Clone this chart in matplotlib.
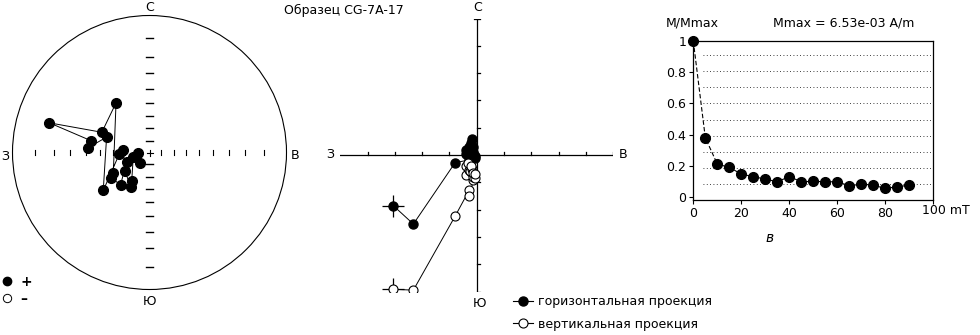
import numpy as np
import matplotlib
matplotlib.use('Agg')
import matplotlib.pyplot as plt
from matplotlib.lines import Line2D
from matplotlib.patches import Circle

plt.rcParams['font.family'] = ['DejaVu Sans']

# Stereonet: declination / inclination of each demagnetisation step (deg).
stereo_dec = [236.9, 222.0, 247.8, 265.0, 220.8, 255.1, 211.8, 208.1, 232.6, 276.5,
              267.5, 230.6, 289.7, 274.3, 281.5, 286.5, 293.0, 326.0, 240.7]
stereo_inc = [52.6, 55.0, 69.6, 80.6, 77.9, 76.0, 62.3, 58.0, 64.6, 68.2,
              65.2, 42.8, 53.2, 41.4, 42.6, 15.4, 48.6, 42.8, 56.3]

# Zijderveld diagram components (tick units).
zij_east = [-3.05, -2.32, -0.79, -0.27, -0.27, -0.12, -0.15, -0.40, -0.40, -0.30,
            -0.22, -0.33, -0.12, -0.25, -0.18, -0.08, -0.22, -0.15, -0.06]
zij_north = [-1.86, -2.53, -0.28, -0.18, -0.08, 0.12, -0.05, 0.05, 0.18, 0.30,
             0.45, 0.20, 0.28, 0.08, 0.60, -0.02, 0.38, 0.05, -0.12]
zij_vert = [-4.92, -4.95, -2.24, -1.28, -1.50, -0.92, -0.67, -0.73, -0.39, -0.55,
            -0.62, -0.30, -0.80, -0.60, -0.50, -0.85, -0.42, -0.65, -0.70]

# Demagnetisation curve.
field_mt = [0, 5, 10, 15, 20, 25, 30, 35, 40, 45, 50, 55, 60, 65, 70, 75, 80, 85, 90]
m_norm = [1.0, 0.38, 0.21, 0.19, 0.146, 0.13, 0.114, 0.097, 0.13, 0.097, 0.10,
          0.097, 0.097, 0.071, 0.082, 0.075, 0.054, 0.065, 0.075]
grid_levels = [0.08, 0.184, 0.288, 0.392, 0.496, 0.60, 0.704, 0.808, 0.912]

title = 'Образец CG-7A-17'
mmax_text = 'Mmax = 6.53e-03 A/m'

W, H = 980, 335
FS = 9


def px_box(x0, y0, x1, y1):
    # pixel box (top-left origin) -> figure fraction rect
    return [x0 / W, 1 - y1 / H, (x1 - x0) / W, (y1 - y0) / H]


fig = plt.figure(figsize=(W / 100, H / 100), dpi=100)

# ---------------- stereonet ----------------
R = 137.0
cx, cy = 149.5, 152.5
ax1 = fig.add_axes(px_box(cx - 140, cy - 140, cx + 140, cy + 140))
lim = 140 / R
ax1.set_xlim(-lim, lim)
ax1.set_ylim(-lim, lim)
ax1.set_axis_off()
ax1.add_patch(Circle((0, 0), 1, fill=False, lw=0.8, color='black'))
for k in range(1, 9):
    r = np.tan(np.radians(5 * k))
    for s in (-1, 1):
        ax1.plot([s * r, s * r], [-2.5 / R, 2.5 / R], color='black', lw=0.8)
        ax1.plot([-3.5 / R, 3.5 / R], [s * r, s * r], color='black', lw=1.0)
ax1.plot([-3 / R, 3 / R], [0, 0], color='black', lw=0.8)
ax1.plot([0, 0], [-3 / R, 3 / R], color='black', lw=0.8)

dec = np.radians(stereo_dec)
inc = np.array(stereo_inc)
rr = np.tan(np.radians((90 - np.abs(inc)) / 2))
sx = rr * np.sin(dec)
sy = rr * np.cos(dec)
ax1.plot(sx, sy, color='black', lw=0.7, zorder=2)
down = inc >= 0
ax1.plot(sx[down], sy[down], 'o', ms=7, mfc='black', mec='black', ls='none', zorder=3)
ax1.plot(sx[~down], sy[~down], 'o', ms=7, mfc='white', mec='black', ls='none', zorder=3)

for lx, ly, t in [(0, 1.055, 'С'), (-1.055, -0.03, 'З'), (1.06, -0.02, 'В'), (0, -1.09, 'Ю')]:
    ax1.text(lx, ly, t, ha='center', va='center', fontsize=FS, clip_on=False)

h_st = [Line2D([], [], marker='o', ls='none', ms=6, mfc='black', mec='black'),
        Line2D([], [], marker='o', ls='none', ms=6, mfc='white', mec='black', mew=0.7)]
fig.legend(h_st, ['+', '–'], loc='upper left', bbox_to_anchor=(-0.006, 1 - 268 / H),
           frameon=False, handlelength=0.8, handletextpad=0.6,
           labelspacing=0.2, borderpad=0.0, prop={'weight': 'bold', 'size': FS + 1})

# ---------------- Zijderveld ----------------
u = 27.3
zx, zy = 476.7, 155.0
ax2 = fig.add_axes(px_box(zx - 5 * u, zy - 5 * u, zx + 5 * u, zy + 5 * u))
ax2.set_xlim(-5, 5)
ax2.set_ylim(-5, 5)
ax2.set_axis_off()
ax2.plot([-5, 5], [0, 0], color='black', lw=0.9)
ax2.plot([0, 0], [-5, 5], color='black', lw=0.9)
tl = 3 / u
for k in range(-4, 5):
    if k == 0:
        continue
    ax2.plot([k, k], [0, tl], color='black', lw=0.9)
    ax2.plot([0, tl], [k, k], color='black', lw=0.9)
ax2.plot([5, 5], [0, tl], color='black', lw=0.9)
ax2.plot([-tl, tl], [5, 5], color='black', lw=0.9)
ax2.plot([0, tl], [-5, -5], color='black', lw=0.9)

ax2.plot(zij_east, zij_north, color='black', lw=0.7, zorder=2)
ax2.plot(zij_east, zij_vert, color='black', lw=0.7, zorder=2)
ax2.plot([zij_east[0]], [zij_north[0]], '+', ms=16, mew=0.9, color='black', zorder=2)
ax2.plot([zij_east[0]], [zij_vert[0]], '+', ms=16, mew=0.9, color='black', zorder=2)
ax2.plot(zij_east, zij_north, 'o', ms=6.5, mfc='black', mec='black', ls='none', zorder=3)
ax2.plot(zij_east, zij_vert, 'o', ms=6.5, mfc='white', mec='black', mew=0.8, ls='none', zorder=3)

for lx, ly, t in [(0.05, 5.4, 'С'), (-5.35, 0, 'З'), (5.35, 0, 'В'), (0.12, -5.45, 'Ю')]:
    ax2.text(lx, ly, t, ha='center', va='center', fontsize=FS, clip_on=False)

h_zij = [Line2D([], [], marker='o', color='black', lw=0.8, ms=6.5, mfc='black'),
         Line2D([], [], marker='o', color='black', lw=0.8, ms=6.5, mfc='white', mew=0.8)]
fig.legend(h_zij, ['горизонтальная проекция', 'вертикальная проекция'], loc='upper left',
           bbox_to_anchor=(507 / W, 1 - 289 / H), frameon=False, fontsize=FS,
           handlelength=1.6, handletextpad=0.4, labelspacing=0.75, borderpad=0.0)

# ---------------- decay curve ----------------
ax3 = fig.add_axes(px_box(693.3, 41, 933.3, 200))
ax3.set_xlim(0, 100)
ax3.set_ylim(-0.02, 1.0)
for g in grid_levels:
    ax3.plot([4, 100], [g, g], color='black', lw=0.6, ls=(0, (1, 3)), zorder=1)
ax3.plot(field_mt[:3], m_norm[:3], color='black', lw=0.8, ls=(0, (4, 2)), zorder=2)
ax3.plot(field_mt[2:], m_norm[2:], color='black', lw=0.8, zorder=2)
ax3.plot(field_mt, m_norm, 'o', ms=7, mfc='black', mec='black', ls='none', zorder=3,
         clip_on=False)
ax3.set_xticks([0, 20, 40, 60, 80, 100])
ax3.set_xticklabels(['0', '20', '40', '60', '80', ''])
ax3.set_yticks([0, 0.2, 0.4, 0.6, 0.8, 1.0])
ax3.set_yticklabels(['0', '0.2', '0.4', '0.6', '0.8', '1'])
ax3.tick_params(axis='both', direction='out', length=3, width=0.8, labelsize=FS, pad=2)
for sp in ax3.spines.values():
    sp.set_linewidth(0.9)

fig.text(922 / W, 1 - 211 / H, '100 mT', ha='left', va='center', fontsize=FS)
fig.text(344 / W, 1 - 10 / H, title, ha='center', va='center', fontsize=FS)
fig.text(692 / W, 1 - 23 / H, 'M/Mmax', ha='center', va='center', fontsize=FS)
fig.text(844 / W, 1 - 23 / H, mmax_text, ha='center', va='center', fontsize=FS)
fig.text(770 / W, 1 - 238 / H, 'в', ha='center', va='center', fontsize=FS + 1, style='italic')

fig.savefig('out.png', dpi=100)
